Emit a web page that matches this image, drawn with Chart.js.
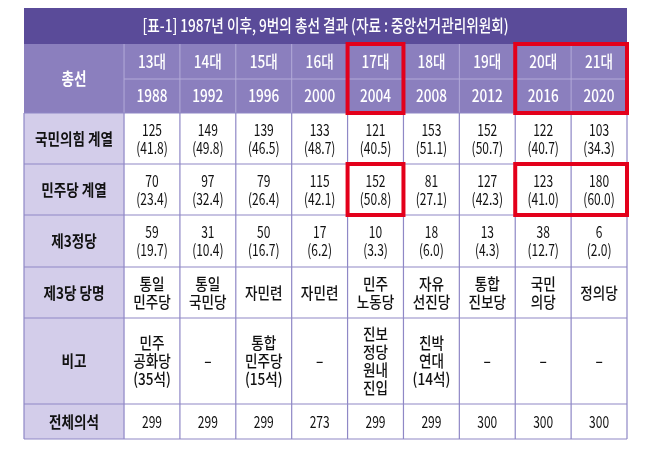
<!DOCTYPE html>
<html><head><meta charset="utf-8">
<script src="https://cdn.jsdelivr.net/npm/chart.js@4.4.0/dist/chart.umd.min.js"></script>
<style>html,body{margin:0;padding:0;background:#fff}</style>
</head><body>
<canvas id="c" width="650" height="449"></canvas>
<script>
const title = "[표-1] 1987년 이후, 9번의 총선 결과 (자료 : 중앙선거관리위원회)";
const terms = ["13대","14대","15대","16대","17대","18대","19대","20대","21대"];
const years = ["1988","1992","1996","2000","2004","2008","2012","2016","2020"];
const rowLabels = ["국민의힘 계열","민주당 계열","제3정당","제3당 당명","비고","전체의석"];
const ppSeats = [125,149,139,133,121,153,152,122,103];
const ppPct = ["41.8","49.8","46.5","48.7","40.5","51.1","50.7","40.7","34.3"];
const dpSeats = [70,97,79,115,152,81,127,123,180];
const dpPct = ["23.4","32.4","26.4","42.1","50.8","27.1","42.3","41.0","60.0"];
const thirdSeats = [59,31,50,17,10,18,13,38,6];
const thirdPct = ["19.7","10.4","16.7","6.2","3.3","6.0","4.3","12.7","2.0"];
const thirdNames = ["통일\n민주당","통일\n국민당","자민련","자민련","민주\n노동당","자유\n선진당","통합\n진보당","국민\n의당","정의당"];
const notes = ["민주\n공화당\n(35석)","–","통합\n민주당\n(15석)","–","진보\n정당\n원내\n진입","친박\n연대\n(14석)","–","–","–"];
const totalSeats = [299,299,299,273,299,299,300,300,300];
// layout edges in scale units
const colEdges = [-1.79,0,1,2,3,4,5,6,7,8,9];
const rowEdges = [0,36,71,105,156,207,259,310,396,431];

const tablePlugin = {
  id:'table',
  afterDraw(chart){
    const ctx = chart.ctx, xs = chart.scales.x, ys = chart.scales.y;
    const X = v=>xs.getPixelForValue(v), Y = v=>ys.getPixelForValue(v);
    const font = (s,w)=>`${w||500} ${s}px "Noto Sans CJK KR"`;
    function txt(str,cx,cy,size,color,w,lh,sx){
      const lines = String(str).split("\n"); lh = lh||size*1.1;
      ctx.save(); ctx.font = font(size,w); ctx.fillStyle=color; ctx.textAlign='center'; ctx.textBaseline='middle';
      const y0 = cy - (lines.length-1)*lh/2;
      lines.forEach((l,i)=>{ ctx.save(); ctx.translate(cx,y0+i*lh); ctx.scale(sx||0.8,1); ctx.fillText(l,0,0); ctx.restore(); });
      ctx.restore();
    }
    const L=X(colEdges[0]), R=X(colEdges[10]);
    ctx.fillStyle='#5a4b99'; ctx.fillRect(L,Y(rowEdges[0]),R-L,Y(rowEdges[1])-Y(rowEdges[0]));
    txt(title,(L+R)/2,(Y(rowEdges[0])+Y(rowEdges[1]))/2,17,'#fff',500,null,0.8);
    ctx.fillStyle='#8b7fbe'; ctx.fillRect(L,Y(rowEdges[1]),R-L,Y(rowEdges[3])-Y(rowEdges[1]));
    ctx.fillStyle='#d3cdea'; ctx.fillRect(L,Y(rowEdges[3]),X(0)-L,Y(rowEdges[9])-Y(rowEdges[3]));
    ctx.strokeStyle='#b3abd8'; ctx.lineWidth=1;
    ctx.beginPath();
    for(let i=1;i<10;i++){ctx.moveTo(X(colEdges[i]),Y(rowEdges[1]));ctx.lineTo(X(colEdges[i]),Y(rowEdges[3]));}
    ctx.moveTo(X(0),Y(rowEdges[2]));ctx.lineTo(R,Y(rowEdges[2]));
    ctx.stroke();
    ctx.strokeStyle='#8f88c6'; ctx.lineWidth=1.2; ctx.beginPath();
    for(let i=1;i<10;i++){ctx.moveTo(X(colEdges[i]),Y(rowEdges[3]));ctx.lineTo(X(colEdges[i]),Y(rowEdges[9]));}
    for(let j=3;j<=9;j++){ctx.moveTo(L,Y(rowEdges[j]));ctx.lineTo(R,Y(rowEdges[j]));}
    ctx.moveTo(L,Y(rowEdges[3]));ctx.lineTo(L,Y(rowEdges[9]));
    ctx.moveTo(R,Y(rowEdges[3]));ctx.lineTo(R,Y(rowEdges[9]));
    ctx.stroke();
    const cx=i=>(X(colEdges[i+1])+X(colEdges[i+2]))/2, cy=j=>(Y(rowEdges[j])+Y(rowEdges[j+1]))/2;
    txt("총선",(L+X(0))/2,(Y(rowEdges[1])+Y(rowEdges[3]))/2,17,'#fff',700);
    terms.forEach((t,i)=>txt(t,cx(i),cy(1),17,'#fff',500));
    years.forEach((t,i)=>txt(t,cx(i),cy(2),17,'#fff',500));
    rowLabels.forEach((t,j)=>txt(t,(L+X(0))/2,cy(j+3),16,'#111',700,null,0.85));
    const dk='#111';
    for(let i=0;i<9;i++){
      txt(ppSeats[i]+"\n("+ppPct[i]+")",cx(i),cy(3),16,dk,400,18,0.75);
      txt(dpSeats[i]+"\n("+dpPct[i]+")",cx(i),cy(4),16,dk,400,18,0.75);
      txt(thirdSeats[i]+"\n("+thirdPct[i]+")",cx(i),cy(5),16,dk,400,18,0.75);
      txt(thirdNames[i],cx(i),cy(6),16,dk,500,18,0.85);
      txt(notes[i],cx(i),cy(7),16,dk,500,18,0.85);
      txt(totalSeats[i],cx(i),cy(8),16,dk,400,null,0.75);
    }
    ctx.strokeStyle='#e3001b'; ctx.lineWidth=4;
    const box=(c0,c1,r0,r1)=>ctx.strokeRect(X(colEdges[c0+1]),Y(rowEdges[r0]),X(colEdges[c1+2])-X(colEdges[c0+1]),Y(rowEdges[r1])-Y(rowEdges[r0]));
    box(4,4,1,3); box(7,8,1,3); box(4,4,4,5); box(7,8,4,5);
  }
};
new Chart(document.getElementById('c'),{
  type:'scatter',
  data:{datasets:[{data:[]}]},
  options:{responsive:false,animation:false,
    layout:{padding:{left:24,right:23,top:8,bottom:10}},
    plugins:{legend:{display:false},tooltip:{enabled:false}},
    scales:{x:{type:'linear',min:colEdges[0],max:colEdges[10],display:false},
            y:{type:'linear',min:rowEdges[0],max:rowEdges[9],reverse:true,display:false}}},
  plugins:[tablePlugin]
});
</script>
</body></html>
